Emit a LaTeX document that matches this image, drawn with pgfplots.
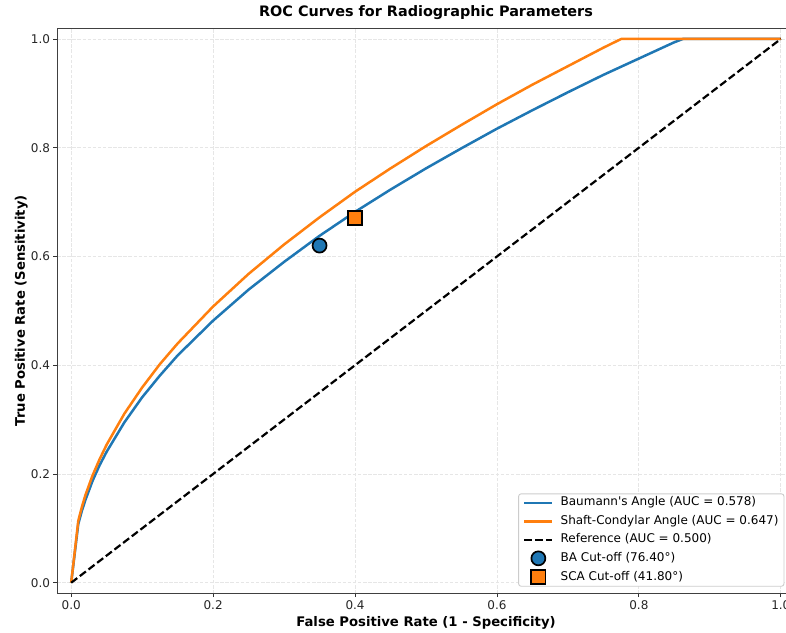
\documentclass[border=0pt]{standalone}
\usepackage{pgfplots}
\pgfplotsset{compat=1.18}
\usepackage{fontspec}
\setmainfont{DejaVu Sans}

\definecolor{tabblue}{HTML}{1F77B4}
\definecolor{taborange}{HTML}{FF7F0E}
\definecolor{gridgray}{HTML}{E6E6E6}
\definecolor{legedge}{HTML}{CCCCCC}

\pgfplotsset{
    markleg/.style={legend image code/.code={\draw[##1] plot coordinates {(14pt,0pt)};}},
}

\begin{document}
\begin{tikzpicture}[x=1pt,y=1pt]
\useasboundingbox (0,0) rectangle (786,632);
\clip (0,0) rectangle (786,632);
\begin{axis}[
    at={(57pt,38.4pt)}, anchor=south west,
    scale only axis,
    width=738pt, height=565.5pt,
    xmin=-0.02, xmax=1.02,
    ymin=-0.02, ymax=1.02,
    xtick={0,0.2,0.4,0.6,0.8,1},
    ytick={0,0.2,0.4,0.6,0.8,1},
    tick pos=left,
    tick align=outside,
    major tick length=3.5pt,
    tick style={black!80, line width=0.9pt},
    axis line style={black!75, line width=1pt},
    ticklabel style={font=\fontsize{12}{14}\selectfont, text=black!85},
    xticklabel style={/pgf/number format/.cd, fixed, fixed zerofill, precision=1, assume math mode=true},
    yticklabel style={/pgf/number format/.cd, fixed, fixed zerofill, precision=1, assume math mode=true},
    grid=major,
    major grid style={gridgray, line width=0.9pt, dash pattern=on 3.5pt off 1.6pt},
    title={ROC Curves for Radiographic Parameters},
    title style={font=\bfseries\fontsize{14.4}{17}\selectfont, at={(axis description cs:0.5,1)}, anchor=base, yshift=5.6pt},
    xlabel={False Positive Rate (1 - Specificity)},
    xlabel style={font=\bfseries\fontsize{13.2}{16}\selectfont, at={(axis description cs:0.5,0)}, anchor=base, yshift=-32.4pt},
    ylabel={True Positive Rate (Sensitivity)},
    ylabel style={font=\bfseries\fontsize{13.2}{16}\selectfont, at={(axis description cs:0,0.5)}, anchor=base, rotate=0, yshift=32pt},
    legend cell align=left,
    legend image code/.code={\draw[#1] (0pt,0pt) -- (28pt,0pt);},
    legend style={
        at={(rel axis cs:0.6249,0.0122)}, anchor=south west,
        draw=legedge, line width=0.9pt, rounded corners=2.5pt,
        fill=white,
        font=\fontsize{12}{14}\selectfont,
        inner xsep=4.5pt, inner ysep=2pt,
        row sep=4.5pt, column sep=6pt,
        nodes={inner sep=1pt, text height=9pt, text depth=3pt},
    },
]
% Baumann's Angle
\addplot[tabblue, line width=2.5pt, line join=round] coordinates {
    (0,0) (0.01,0.108) (0.015,0.132) (0.02,0.152) (0.03,0.187) (0.04,0.216)
    (0.05,0.241) (0.075,0.295) (0.1,0.341) (0.125,0.381) (0.15,0.418)
    (0.2,0.482) (0.25,0.539) (0.3,0.590) (0.35,0.638) (0.4,0.682)
    (0.45,0.723) (0.5,0.762) (0.55,0.799) (0.6,0.835) (0.65,0.869)
    (0.7,0.902) (0.75,0.934) (0.8,0.964) (0.85,0.994) (0.862,1.0) (1.0,1.0)
};
\addlegendentry{Baumann\textquotesingle s Angle (AUC = 0.578)}
% Shaft-Condylar Angle
\addplot[taborange, line width=2.5pt, line join=round] coordinates {
    (0,0) (0.01,0.114) (0.015,0.139) (0.02,0.161) (0.03,0.197) (0.04,0.227)
    (0.05,0.254) (0.075,0.311) (0.1,0.359) (0.125,0.402) (0.15,0.440)
    (0.2,0.508) (0.25,0.568) (0.3,0.622) (0.35,0.672) (0.4,0.719)
    (0.45,0.762) (0.5,0.803) (0.55,0.842) (0.6,0.880) (0.65,0.916)
    (0.7,0.950) (0.75,0.984) (0.775,1.0) (1.0,1.0)
};
\addlegendentry{Shaft-Condylar Angle (AUC = 0.647)}
% chance line
\addplot[black, line width=2.2pt, dash pattern=on 7.6pt off 3.3pt] coordinates {(0,0) (1,1)};
\addlegendentry{Reference (AUC = 0.500)}
% cut-off points
\addplot[only marks, mark=*, mark size=7pt, draw=black, fill=tabblue, line width=1.7pt, markleg]
    coordinates {(0.35,0.62)};
\addlegendentry{BA Cut-off (76.40°)}
\addplot[only marks, mark=square*, mark size=7.2pt, draw=black, fill=taborange, line width=1.7pt, markleg]
    coordinates {(0.40,0.671)};
\addlegendentry{SCA Cut-off (41.80°)}
\end{axis}
\end{tikzpicture}
\end{document}
